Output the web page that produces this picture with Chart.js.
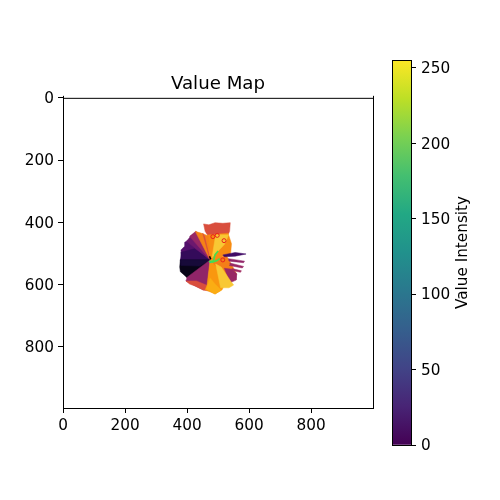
<!DOCTYPE html>
<html>
<head>
<meta charset="utf-8">
<style>
html,body{margin:0;padding:0;background:#fff;width:500px;height:500px;overflow:hidden}
canvas{position:absolute;top:0}
#map{left:0}
#bar{left:380px}
</style>
<script src="https://cdn.jsdelivr.net/npm/chart.js@4"></script>
</head>
<body>
<canvas id="map" width="436" height="500"></canvas>
<canvas id="bar" width="120" height="500"></canvas>
<script>
const chartTitle = "Value Map";
const colorbarLabel = "Value Intensity";
const axisTicks = [0, 200, 400, 600, 800];
const colorbarTicks = [0, 50, 100, 150, 200, 250];
const colorbarRange = [0, 255];

// Map regions, as [x, y] image positions
const topSlab = [[453,406],[470,409],[490,402],[515,404],[539,402],[537,430],[530,445],[469,447],[458,430]];
const fanNorthEast = [[474,522],[465,442],[532,436],[543,470],[540,503],[517,506],[500,526]];
const wedgeLight = [[480,515],[492,441],[534,441],[520,472]];
const purpleFan = [[474,522],[378,522],[382,505],[380,490],[392,478],[392,465],[408,456],[410,446],[428,434]];
const violetFan = [[474,522],[378,522],[380,497],[424,486]];
const lightPurple = [[474,522],[398,462],[412,445],[430,440]];
const magentaUpper = [[474,522],[408,446],[428,430],[436,436]];
const orangeUpper = [[474,522],[426,430],[452,438],[468,445]];
const redUpper = [[474,522],[450,436],[456,445]];
const blackFan = [[474,522],[378,522],[376,545],[378,560],[392,572],[400,580],[445,565]];
const navyFan = [[474,522],[378,522],[380,540],[440,542]];
const pinkFan = [[474,522],[400,578],[396,590],[420,603],[453,619],[466,600]];
const redFringe = [[396,590],[408,600],[425,606],[453,620],[472,622],[464,604],[430,590]];
const orangeSouth = [[474,522],[464,604],[458,618],[490,632],[513,618],[525,592],[527,570],[500,530]];
const lightSouth = [[474,580],[462,616],[490,632],[510,620],[490,600]];
const orangeEast = [[480,528],[525,505],[545,540],[560,568],[535,590]];
const magentaEast = [[520,549],[545,552],[560,567],[558,587],[538,596]];
const yellowSouth = [[492,535],[510,545],[540,590],[550,603],[535,612],[508,612]];
const spikeOne = [[515,506],[555,498],[590,503],[555,510],[520,512]];
const spikeTwo = [[533,518],[585,526],[582,531],[535,526]];
const spikeThree = [[538,532],[582,543],[578,548],[536,540]];
const spikeFour = [[545,550],[575,557],[572,562],[545,556]];
const regionList = [topSlab, fanNorthEast, wedgeLight, purpleFan, violetFan, lightPurple, magentaUpper, orangeUpper, redUpper, blackFan, navyFan, pinkFan, redFringe, orangeSouth, lightSouth, orangeEast, magentaEast, yellowSouth, spikeOne, spikeTwo, spikeThree, spikeFour];
const regionValues = [150, 190, 222, 62, 42, 78, 105, 184, 150, 8, 22, 100, 150, 196, 208, 182, 105, 222, 50, 100, 105, 110];

// Small overlaid track
const greenTrack = [[470,528],[485,525],[490,505],[500,493]];
const greenTrackTwo = [[478,530],[495,525],[505,518]];
const cyanTrack = [[472,526],[478,530]];
const blackTrack = [[472,510],[476,520]];
const redMarks = [[483,447],[497,443],[519,460],[515,522]];

const inferno = ['#000004','#1b0c41','#420a68','#6a176e','#932667','#bc3754','#dd513a','#f37819','#fca50a','#f6d746','#fcffa4'];
const viridis = ['#440154','#482475','#414487','#355f8d','#2a788e','#21918c','#22a884','#44bf70','#7ad151','#bddf26','#fde725'];

function hex(c){return [1,3,5].map(i=>parseInt(c.substr(i,2),16));}
function infernoColor(v){
  const t=v/255*(inferno.length-1),i=Math.min(Math.floor(t),inferno.length-2),f=t-i;
  const a=hex(inferno[i]),b=hex(inferno[i+1]);
  return 'rgb('+a.map((p,k)=>Math.round(p+(b[k]-p)*f)).join(',')+')';
}
const pts = arr => arr.map(p=>({x:p[0],y:p[1]}));
const FONT = 'DejaVu Sans';
const TICK = {family:FONT,size:15.28};

const regionSets = regionList.map((r,i)=>{
  const c=infernoColor(regionValues[i]);
  return {type:'scatter',data:pts(r.concat([r[0]])),showLine:true,fill:'shape',backgroundColor:c,borderColor:c,borderWidth:.5,pointRadius:0,tension:0,order:100-i};
});
const track=(d,c,w)=>({type:'scatter',data:pts(d),showLine:true,fill:false,borderColor:c,borderWidth:w,pointRadius:0,tension:0,order:5});
const datasets = regionSets.concat([
  track(greenTrack,'#3fe050',1.6),
  track(greenTrackTwo,'#3fe050',1.6),
  track(cyanTrack,'#18c8b0',1.8),
  track(blackTrack,'#000004',1.6),
  {type:'scatter',data:pts(redMarks),showLine:false,pointStyle:'circle',pointRadius:2,borderColor:'#e8221c',borderWidth:1,backgroundColor:'rgba(0,0,0,0)',order:1}
]);

const frame = {
  id:'frame',
  afterDraw(chart){
    const a=chart.chartArea,c=chart.ctx;
    c.save();c.strokeStyle='#000';c.lineWidth=1;
    c.beginPath();
    c.moveTo(a.left+.5,a.top-2);c.lineTo(a.left+.5,a.top+.5);
    c.moveTo(a.left,a.top+.5);c.lineTo(a.right+.5,a.top+.5);
    c.moveTo(a.right+.5,a.top-2);c.lineTo(a.right+.5,a.bottom+.5);
    c.stroke();c.restore();
  }
};
const fixedTicks = list => scale => {scale.ticks = list.map(v=>({value:v}));};
const gridStyle = {display:true,drawOnChartArea:false,drawTicks:true,tickLength:5,tickColor:'#000',tickWidth:1};

new Chart(document.getElementById('map'),{
  data:{datasets},
  plugins:[frame],
  options:{
    responsive:false,animation:false,devicePixelRatio:1,
    layout:{padding:{left:0,right:63,top:0,bottom:0}},
    plugins:{
      legend:{display:false},tooltip:{enabled:false},
      title:{display:true,fullSize:false,text:chartTitle,color:'#000',font:{family:FONT,size:18.2,weight:'normal'},padding:{top:73,bottom:3}}
    },
    scales:{
      x:{type:'linear',min:-0.5,max:999.5,grid:gridStyle,border:{display:true,color:'#000',width:1},
        afterBuildTicks:fixedTicks(axisTicks),
        afterFit(s){s.height=92;},
        ticks:{color:'#000',font:TICK,padding:4,maxRotation:0,autoSkip:false}},
      y:{type:'linear',reverse:true,min:-0.5,max:999.5,grid:gridStyle,border:{display:true,color:'#000',width:1},
        afterBuildTicks:fixedTicks(axisTicks),
        afterFit(s){s.width=63;},
        ticks:{color:'#000',font:TICK,padding:4,autoSkip:false,labelOffset:1.5}}
    }
  }
});

const barLabel = {
  id:'barLabel',
  afterDraw(chart){
    const c=chart.ctx,a=chart.chartArea;
    c.save();c.translate(83,(a.top+a.bottom)/2);c.rotate(-Math.PI/2);
    c.font='15.28px "'+FONT+'"';c.fillStyle='#000';c.textAlign='center';c.textBaseline='middle';
    c.fillText(colorbarLabel,0,0);c.restore();
  }
};
const barFrame = {
  id:'barFrame',
  afterDraw(chart){
    const a=chart.chartArea,c=chart.ctx;
    c.save();c.strokeStyle='#000';c.lineWidth=1;
    c.strokeRect(a.left+.5,a.top+.5,a.right-a.left,a.bottom-a.top);c.restore();
  }
};
new Chart(document.getElementById('bar'),{
  type:'bar',
  data:{labels:[colorbarLabel],datasets:[{
    data:[colorbarRange],
    categoryPercentage:1,barPercentage:1,borderWidth:0,
    backgroundColor(ctx){
      const a=ctx.chart.chartArea;
      if(!a) return viridis[0];
      const g=ctx.chart.ctx.createLinearGradient(0,a.bottom,0,a.top);
      viridis.forEach((c,i)=>g.addColorStop(i/(viridis.length-1),c));
      return g;
    }
  }]},
  plugins:[barFrame,barLabel],
  options:{
    responsive:false,animation:false,devicePixelRatio:1,
    layout:{padding:{left:12,right:0,top:60,bottom:55}},
    plugins:{legend:{display:false},tooltip:{enabled:false},title:{display:false}},
    scales:{
      x:{display:false},
      y:{type:'linear',position:'right',min:colorbarRange[0],max:colorbarRange[1],
        grid:gridStyle,border:{display:false},
        afterBuildTicks:fixedTicks(colorbarTicks),
        afterFit(s){s.width=89;},
        ticks:{color:'#000',font:TICK,padding:5,autoSkip:false,labelOffset:1.5}}
    }
  }
});
</script>
</body>
</html>
